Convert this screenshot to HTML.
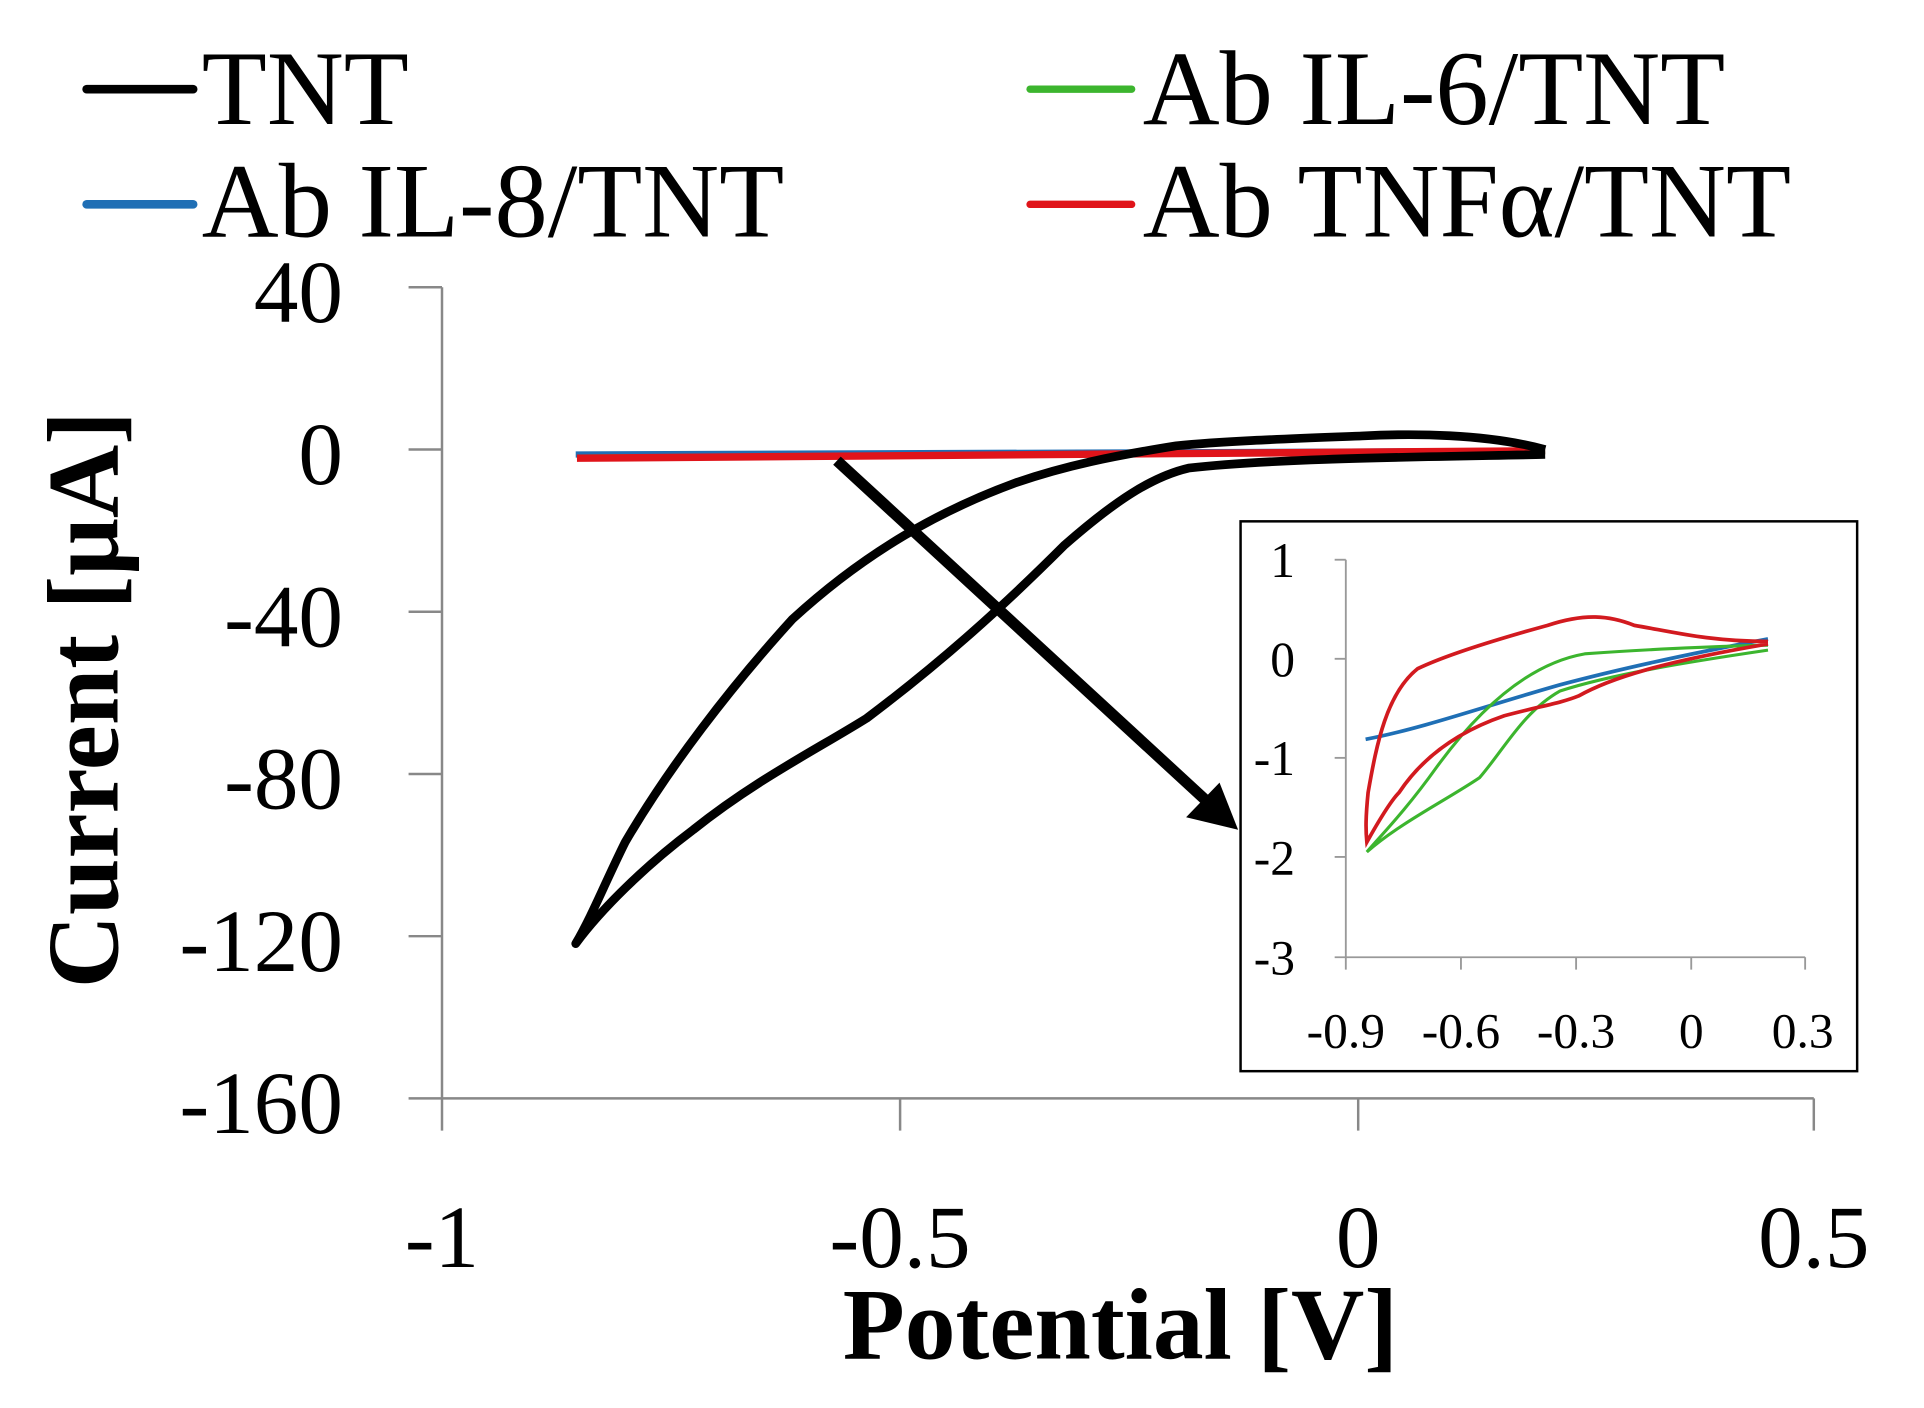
<!DOCTYPE html>
<html><head><meta charset="utf-8"><style>
html,body{margin:0;padding:0;background:#fff;}
svg{display:block;}
text{font-family:"Liberation Serif",serif;fill:#000;}
</style></head><body>
<svg width="1924" height="1408" viewBox="0 0 1554 1137" preserveAspectRatio="none" xmlns="http://www.w3.org/2000/svg">
<rect width="1554" height="1137" fill="#fff"/>
<!-- legend -->
<line x1="70" y1="72" x2="156" y2="72" stroke="#000" stroke-width="7" stroke-linecap="round"/>
<text x="163" y="100" font-size="86">TNT</text>
<line x1="70" y1="165" x2="156" y2="165" stroke="#1f6fb5" stroke-width="7" stroke-linecap="round"/>
<text x="163" y="191" font-size="86">Ab IL-8/TNT</text>
<line x1="832" y1="72" x2="914" y2="72" stroke="#3cb52e" stroke-width="6" stroke-linecap="round"/>
<text x="923" y="100" font-size="86">Ab IL-6/TNT</text>
<line x1="832" y1="165" x2="914" y2="165" stroke="#e0141a" stroke-width="6" stroke-linecap="round"/>
<text x="923" y="191" font-size="86">Ab TNFα/TNT</text>
<!-- axes -->
<g stroke="#888" stroke-width="2" fill="none">
<line x1="357" y1="232" x2="357" y2="913"/>
<line x1="330" y1="887" x2="1465" y2="887"/>
<line x1="330" y1="232" x2="357" y2="232"/>
<line x1="330" y1="363" x2="357" y2="363"/>
<line x1="330" y1="494" x2="357" y2="494"/>
<line x1="330" y1="625" x2="357" y2="625"/>
<line x1="330" y1="756" x2="357" y2="756"/>
<line x1="727" y1="887" x2="727" y2="913"/>
<line x1="1097" y1="887" x2="1097" y2="913"/>
<line x1="1465" y1="887" x2="1465" y2="913"/>
</g>
<g font-size="72" text-anchor="end">
<text x="277" y="260">40</text>
<text x="277" y="391">0</text>
<text x="277" y="522">-40</text>
<text x="277" y="653">-80</text>
<text x="277" y="784">-120</text>
<text x="277" y="915">-160</text>
</g>
<g font-size="72" text-anchor="middle">
<text x="357" y="1023">-1</text>
<text x="727" y="1023">-0.5</text>
<text x="1097" y="1023">0</text>
<text x="1465" y="1023">0.5</text>
</g>
<text x="905" y="1097" font-size="82" font-weight="bold" text-anchor="middle">Potential [V]</text>
<text transform="translate(95,565) rotate(-90)" font-size="82" font-weight="bold" text-anchor="middle">Current [μA]</text>
<!-- flat series -->
<line x1="465" y1="367" x2="1248" y2="364" stroke="#1f6fb5" stroke-width="5"/>
<line x1="466" y1="369" x2="1248" y2="365" stroke="#3cb52e" stroke-width="4"/>
<line x1="466" y1="370" x2="1248" y2="364" stroke="#e0141a" stroke-width="6"/>
<!-- TNT -->
<path d="M1248,363 C1200,350 1140,350 1100,352 C1050,354 990,356 950,360 C900,368 860,376 820,390 C760,412 700,445 640,500 C590,555 540,620 505,680 C490,710 478,740 465,762 C485,735 520,700 560,670 C610,630 660,605 700,580 C760,535 810,490 860,440 C900,405 930,385 960,378 C1030,370 1150,369 1248,367" fill="none" stroke="#000" stroke-width="7" stroke-linejoin="round"/>
<!-- arrow -->
<line x1="676" y1="372" x2="978" y2="650" stroke="#000" stroke-width="9"/>
<polygon points="1000,670 958,660 985,632" fill="#000"/>
<!-- inset -->
<rect x="1002" y="421" width="498" height="444" fill="#fff" stroke="#000" stroke-width="2"/>
<g stroke="#999" stroke-width="1.5" fill="none">
<line x1="1087" y1="452" x2="1087" y2="783"/>
<line x1="1078" y1="773" x2="1458" y2="773"/>
<line x1="1078" y1="452" x2="1087" y2="452"/>
<line x1="1078" y1="532" x2="1087" y2="532"/>
<line x1="1078" y1="612" x2="1087" y2="612"/>
<line x1="1078" y1="692" x2="1087" y2="692"/>
<line x1="1180" y1="773" x2="1180" y2="783"/>
<line x1="1273" y1="773" x2="1273" y2="783"/>
<line x1="1366" y1="773" x2="1366" y2="783"/>
<line x1="1458" y1="773" x2="1458" y2="783"/>
</g>
<g font-size="40" text-anchor="end">
<text x="1046" y="466">1</text>
<text x="1046" y="546">0</text>
<text x="1046" y="626">-1</text>
<text x="1046" y="706">-2</text>
<text x="1046" y="787">-3</text>
</g>
<g font-size="40" text-anchor="middle">
<text x="1087" y="846">-0.9</text>
<text x="1180" y="846">-0.6</text>
<text x="1273" y="846">-0.3</text>
<text x="1366" y="846">0</text>
<text x="1456" y="846">0.3</text>
</g>
<path d="M1103,597 C1150,588 1200,570 1260,553 C1320,537 1380,525 1428,516" fill="none" stroke="#1f6fb5" stroke-width="3"/>
<path d="M1428,521 C1380,522 1320,525 1280,528 C1240,535 1200,565 1160,620 C1135,655 1115,675 1104,688 C1130,665 1170,645 1195,628 C1215,605 1230,575 1260,558 C1300,545 1360,535 1428,525" fill="none" stroke="#3cb52e" stroke-width="2.5"/>
<path d="M1428,518 C1380,518 1350,510 1320,505 C1300,497 1280,495 1250,505 C1210,516 1170,528 1145,540 C1120,560 1112,600 1105,640 C1103,660 1103,670 1104,680 C1118,655 1125,645 1130,640 C1150,610 1180,590 1215,578 C1245,570 1260,568 1275,562 C1300,548 1340,535 1428,520" fill="none" stroke="#d21a1f" stroke-width="3"/>
</svg>
</body></html>
